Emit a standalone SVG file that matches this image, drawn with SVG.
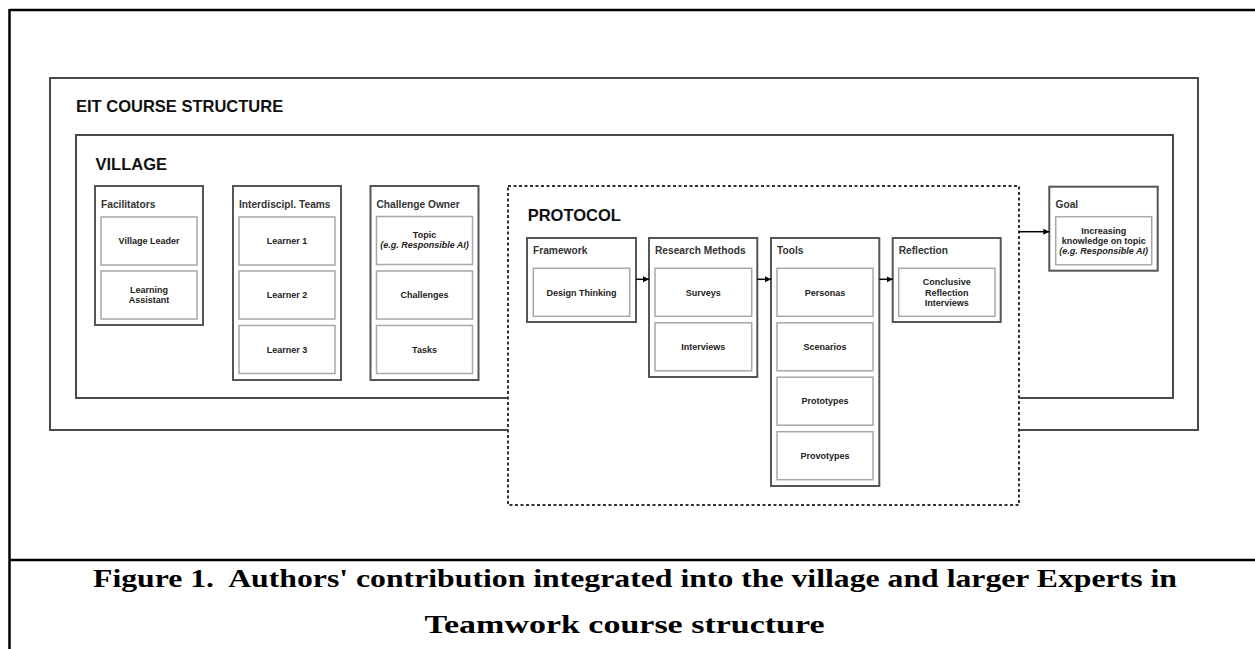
<svg xmlns="http://www.w3.org/2000/svg" width="1255" height="649" viewBox="0 0 1255 649">
<defs>
<style>
.frame{fill:none;stroke:#000;stroke-width:2.5}
.container{fill:none;stroke:#4a4a4a;stroke-width:2}
.protocol{fill:#fff;stroke:#333;stroke-width:2;stroke-dasharray:3 2.5}
.group{fill:#fff;stroke:#555;stroke-width:2}
.item{fill:#fff;stroke:#a8a8a8;stroke-width:1.5}
.title{font-family:"Liberation Sans",Arial,sans-serif;font-weight:bold;font-size:16.5px;fill:#111}
.head{font-family:"Liberation Sans",Arial,sans-serif;font-weight:bold;font-size:10.2px;fill:#333}
.label{font-family:"Liberation Sans",Arial,sans-serif;font-weight:bold;font-size:9px;fill:#222;text-anchor:middle}
.it{font-style:italic}
.caption{font-family:"Liberation Serif","Times New Roman",serif;font-weight:bold;font-size:25px;fill:#000;text-anchor:middle}
.conn{stroke:#000;stroke-width:1.5;fill:none}
</style>
<marker id="arrow" markerUnits="userSpaceOnUse" markerWidth="7" markerHeight="7" refX="6" refY="3" orient="auto">
<path d="M0,0 L6,3 L0,6 Z" fill="#000"/>
</marker>
</defs>
<rect width="1255" height="649" fill="#fff"/>
<g id="page-frame">
<line class="frame" x1="9.5" y1="10" x2="1255" y2="10"/>
<line class="frame" x1="9.5" y1="9" x2="9.5" y2="649"/>
<line class="frame" x1="9.5" y1="560" x2="1255" y2="560"/>
</g>
<g id="eit-course-structure">
<rect class="container" x="50" y="78" width="1148" height="352"/>
<text class="title" x="76" y="111.7">EIT COURSE STRUCTURE</text>
</g>
<g id="village">
<rect class="container" x="76" y="135" width="1097" height="263"/>
<text class="title" x="95.5" y="170">VILLAGE</text>
</g>
<g id="facilitators">
<rect class="group" x="95" y="186" width="108" height="139"/>
<text class="head" x="101" y="208.3">Facilitators</text>
<rect class="item" x="101" y="217" width="96" height="48"/>
<text class="label" x="149" y="244.2">Village Leader</text>
<rect class="item" x="101" y="271" width="96" height="48"/>
<text class="label" x="149" y="293.2">Learning</text>
<text class="label" x="149" y="303.2">Assistant</text>
</g>
<g id="interdiscipl-teams">
<rect class="group" x="233" y="186" width="108" height="194"/>
<text class="head" x="239" y="208.3">Interdiscipl. Teams</text>
<rect class="item" x="239" y="217" width="96" height="48"/>
<text class="label" x="287" y="244.2">Learner 1</text>
<rect class="item" x="239" y="271" width="96" height="48"/>
<text class="label" x="287" y="298.2">Learner 2</text>
<rect class="item" x="239" y="325.5" width="96" height="48"/>
<text class="label" x="287" y="352.7">Learner 3</text>
</g>
<g id="challenge-owner">
<rect class="group" x="370.5" y="186" width="108" height="194"/>
<text class="head" x="376.5" y="207.8">Challenge Owner</text>
<rect class="item" x="376.5" y="216.5" width="96" height="48"/>
<text class="label" x="424.5" y="237.7">Topic</text>
<text class="label it" x="424.5" y="247.9">(e.g. Responsible AI)</text>
<rect class="item" x="376.5" y="271" width="96" height="48"/>
<text class="label" x="424.5" y="298.2">Challenges</text>
<rect class="item" x="376.5" y="325.5" width="96" height="48"/>
<text class="label" x="424.5" y="352.7">Tasks</text>
</g>
<g id="protocol">
<rect class="protocol" x="508" y="186" width="511" height="319"/>
<text class="title" x="527.7" y="220.7">PROTOCOL</text>
</g>
<g id="framework">
<rect class="group" x="527" y="238" width="109" height="84"/>
<text class="head" x="533" y="253.8">Framework</text>
<rect class="item" x="533.3" y="268.3" width="96.4" height="48"/>
<text class="label" x="581.5" y="295.5">Design Thinking</text>
</g>
<g id="research-methods">
<rect class="group" x="649" y="238" width="108.3" height="139"/>
<text class="head" x="655" y="253.8">Research Methods</text>
<rect class="item" x="655" y="268.3" width="96.7" height="48"/>
<text class="label" x="703.3" y="295.5">Surveys</text>
<rect class="item" x="655" y="322.8" width="96.7" height="48"/>
<text class="label" x="703.3" y="350">Interviews</text>
</g>
<g id="tools">
<rect class="group" x="771" y="238" width="108.3" height="248"/>
<text class="head" x="777" y="253.8">Tools</text>
<rect class="item" x="777" y="268.3" width="96" height="48"/>
<text class="label" x="825" y="295.5">Personas</text>
<rect class="item" x="777" y="322.8" width="96" height="48"/>
<text class="label" x="825" y="350">Scenarios</text>
<rect class="item" x="777" y="377.2" width="96" height="48"/>
<text class="label" x="825" y="404.4">Prototypes</text>
<rect class="item" x="777" y="431.7" width="96" height="48"/>
<text class="label" x="825" y="458.9">Provotypes</text>
</g>
<g id="reflection">
<rect class="group" x="892.7" y="238" width="108" height="84"/>
<text class="head" x="898.7" y="253.8">Reflection</text>
<rect class="item" x="898.7" y="268.3" width="96.3" height="48"/>
<text class="label" x="946.8" y="285.3">Conclusive</text>
<text class="label" x="946.8" y="295.5">Reflection</text>
<text class="label" x="946.8" y="305.7">Interviews</text>
</g>
<g id="goal">
<rect class="group" x="1049.3" y="186.7" width="108.4" height="84"/>
<text class="head" x="1055.5" y="208.3">Goal</text>
<rect class="item" x="1055.7" y="216.7" width="96" height="48"/>
<text class="label" x="1103.7" y="233.5">Increasing</text>
<text class="label" x="1103.7" y="243.7">knowledge on topic</text>
<text class="label it" x="1103.7" y="253.9">(e.g. Responsible AI)</text>
</g>
<g id="connectors">
<line class="conn" x1="636" y1="279.3" x2="649" y2="279.3" marker-end="url(#arrow)"/>
<line class="conn" x1="757.3" y1="279.3" x2="771" y2="279.3" marker-end="url(#arrow)"/>
<line class="conn" x1="879.3" y1="279.3" x2="892.7" y2="279.3" marker-end="url(#arrow)"/>
<line class="conn" x1="1019" y1="231.7" x2="1049.3" y2="231.7" marker-end="url(#arrow)"/>
</g>
<g id="caption">
<text class="caption" x="635" y="587" textLength="1084" lengthAdjust="spacingAndGlyphs">Figure 1.&#160; Authors' contribution integrated into the village and larger Experts in</text>
<text class="caption" x="624.5" y="633" textLength="400" lengthAdjust="spacingAndGlyphs">Teamwork course structure</text>
</g>
</svg>
